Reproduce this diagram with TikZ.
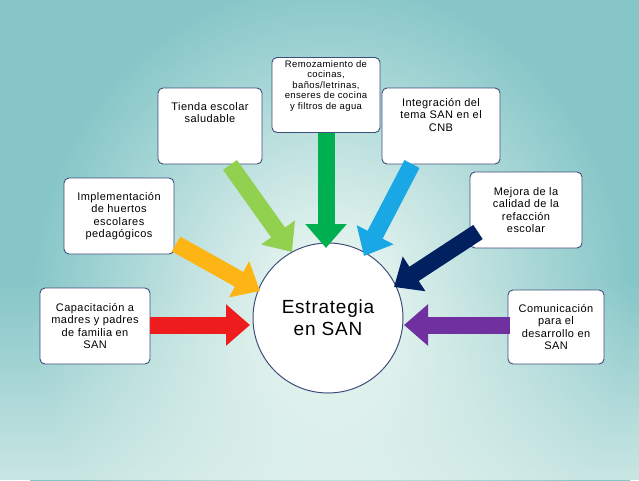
\documentclass[tikz,border=0pt]{standalone}
\usepackage{fontspec}
\setmainfont{Liberation Sans}[LetterSpace=4]
\usetikzlibrary{arrows.meta,shadings,fadings}
\definecolor{bgout}{HTML}{86C6C8}
\definecolor{bgin}{HTML}{F6FCF6}
\definecolor{bord}{HTML}{3E4E7A}
\definecolor{cred}{HTML}{EE1C1C}
\definecolor{cora}{HTML}{FDB515}
\definecolor{clg}{HTML}{92D050}
\definecolor{cdg}{HTML}{00B050}
\definecolor{clb}{HTML}{19A7E6}
\definecolor{cnv}{HTML}{002060}
\definecolor{cpu}{HTML}{7030A0}
\tikzset{
  box/.style={draw=bord,line width=0.9pt,fill=white,rounded corners=5pt,align=center,font=\fontsize{11}{12.5}\selectfont,inner sep=2pt},
  blk/.style={line width=17pt,-{Triangle[width=40pt,length=24pt]}},
}
\begin{document}
\begin{tikzpicture}[x=1pt,y=-1pt]
\useasboundingbox (0,0) rectangle (639,480);
\fill[bgout] (0,0) rectangle (639,480);
\shade[inner color=bgin,outer color=bgout] (30,-20) rectangle (630,620);
\fill[bgin,path fading=north,opacity=0.6] (0,280) rectangle (639,480);
\node[box,minimum width=110,minimum height=76] (b1) at (95,326) {Capacitación a\\madres y padres\\de familia en\\SAN};
\node[box,minimum width=110,minimum height=76] (b2) at (119,216) {Implementación\\de huertos\\escolares\\pedagógicos};
\node[box,minimum width=104,minimum height=76] (b3) at (210,126) {Tienda escolar\\saludable\\[14pt]};
\node[box,minimum width=108,minimum height=75,font=\fontsize{9.5}{10.5}\selectfont] (b4) at (326,95) {Remozamiento de\\cocinas,\\baños/letrinas,\\enseres de cocina\\y filtros de agua\\[10pt]};
\node[box,minimum width=118,minimum height=76] (b5) at (441,126) {Integración del\\tema SAN en el\\CNB\\[10pt]};
\node[box,minimum width=112,minimum height=76] (b6) at (526,210) {Mejora de la\\calidad de la\\refacción\\escolar};
\node[box,minimum width=96,minimum height=74] (b7) at (556,327) {Comunicación\\para el\\desarrollo en\\SAN};
\node[draw=bord,line width=1pt,fill=white,circle,minimum size=150,align=center,font=\fontsize{19}{22}\selectfont] (c) at (328,318) {Estrategia\\en SAN};
\coordinate (a1s) at (150,325); \coordinate (a1e) at (250,325);
\coordinate (a2s) at (176,244); \coordinate (a2e) at (260,291);
\coordinate (a3s) at (230,165); \coordinate (a3e) at (292,252);
\coordinate (a4s) at (326,133); \coordinate (a4e) at (326,248);
\coordinate (a5s) at (412,164); \coordinate (a5e) at (364,256);
\coordinate (a6s) at (478,232); \coordinate (a6e) at (394,287);
\coordinate (a7s) at (510,325); \coordinate (a7e) at (404,325);
\draw[blk,draw=cred,fill=cred] (a1s) -- (a1e);
\draw[blk,draw=cora,fill=cora] (a2s) -- (a2e);
\draw[blk,draw=clg,fill=clg] (a3s) -- (a3e);
\draw[blk,draw=cdg,fill=cdg] (a4s) -- (a4e);
\draw[blk,draw=clb,fill=clb] (a5s) -- (a5e);
\draw[blk,draw=cnv,fill=cnv] (a6s) -- (a6e);
\draw[blk,draw=cpu,fill=cpu] (a7s) -- (a7e);
\end{tikzpicture}
\end{document}
